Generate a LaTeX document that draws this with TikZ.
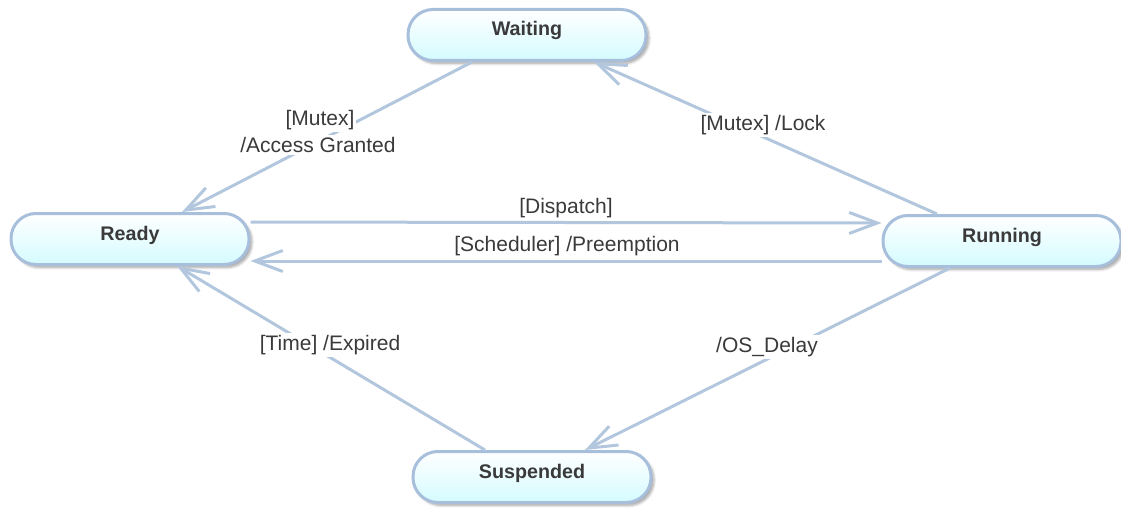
\documentclass[tikz,border=0pt]{standalone}
\usepackage{fontspec}
\setmainfont{Liberation Sans}
\usetikzlibrary{arrows.meta,shadows.blur}
\definecolor{edgeblue}{RGB}{178,199,222}
\definecolor{stateborder}{RGB}{168,191,220}
\definecolor{statefill}{RGB}{212,251,255}
\definecolor{ink}{RGB}{58,58,58}
\tikzset{
  state/.style={rectangle, rounded corners=25pt, minimum width=238pt, minimum height=51pt,
    inner sep=0pt, draw=stateborder, line width=3pt, top color=white, bottom color=statefill,
    text=ink, font=\fontsize{19.7}{22}\selectfont\bfseries, text height=6pt, text depth=4pt,
    blur shadow={shadow xshift=3pt, shadow yshift=-3pt, shadow blur radius=2.5pt,
      shadow blur steps=6, shadow opacity=35}},
  trans/.style={draw=edgeblue, line width=3pt, -{Straight Barb[length=28pt,width=21pt]}},
  tlabel/.style={fill=white, inner sep=2pt, text=ink, font=\fontsize{21}{24}\selectfont},
  plainlabel/.style={inner sep=2pt, text=ink, font=\fontsize{21}{24}\selectfont},
}
\begin{document}
\begin{tikzpicture}[x=1pt,y=-1pt]
\useasboundingbox (0,0) rectangle (1121,508);

% states
\node[state] (waiting)   at (527,35)  {Waiting};
\node[state] (ready)     at (130,239) {Ready};
\node[state] (running)   at (1002,241) {Running};
\node[state] (suspended) at (532,477) {Suspended};

% transitions
\draw[trans] ([xshift=-55pt]waiting.south) -- ([xshift=52pt]ready.north);
\draw[trans] ([xshift=-65pt]running.north) -- ([xshift=67pt]waiting.south);
\draw[trans] ([yshift=17pt]ready.east) -- ([yshift=18pt]running.west);
\draw[trans] ([yshift=-20pt]running.west) -- ([yshift=-22pt]ready.east);
\draw[trans] ([xshift=-52pt]running.south) -- ([xshift=53pt]suspended.north);
\draw[trans] ([xshift=-47pt]suspended.north) -- ([xshift=47pt]ready.south);

% transition labels
\node[tlabel] (lmutexa) at (320,120) {[Mutex]};
\node[tlabel] (lmutexb) at (318,145) {/Access Granted};
\node[tlabel] (llock) at (763,125) {[Mutex] /Lock};
\node[plainlabel] (ldispatch) at (566,208) {[Dispatch]};
\node[plainlabel] (lsched) at (567,246) {[Scheduler] /Preemption};
\node[tlabel] (ltime) at (330,345) {[Time] /Expired};
\node[tlabel] (ldelay) at (767,347) {/OS\_Delay};
\end{tikzpicture}
\end{document}
